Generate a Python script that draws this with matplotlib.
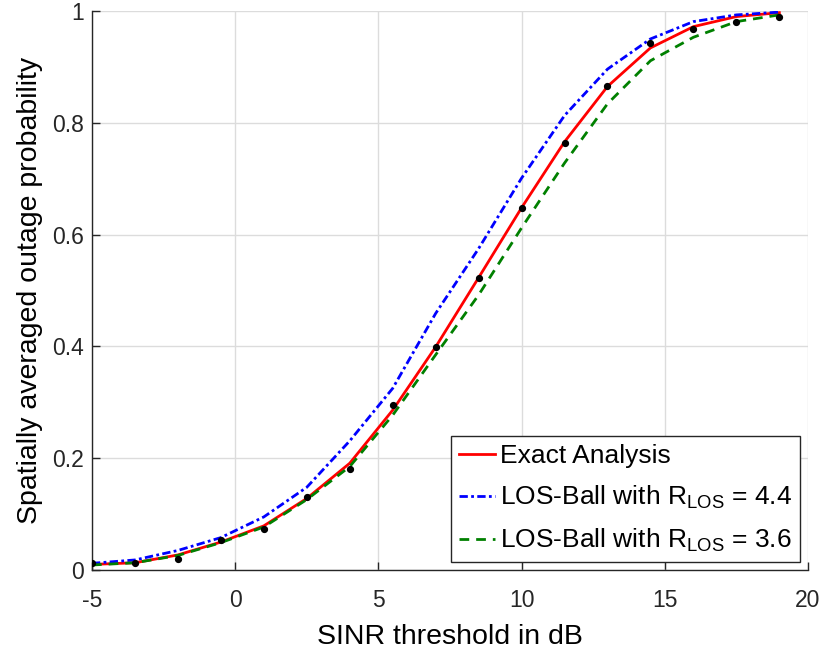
import matplotlib
matplotlib.use("Agg")
import matplotlib.pyplot as plt

plt.rcParams["font.family"] = ["Liberation Sans", "DejaVu Sans"]
plt.rcParams["mathtext.default"] = "regular"
plt.rcParams["axes.unicode_minus"] = False

# SINR thresholds (dB)
sinr_db = [-5, -3.5, -2, -0.5, 1, 2.5, 4, 5.5, 7, 8.5, 10, 11.5, 13, 14.5, 16, 17.5, 19]

# outage probability curves
exact = [0.010, 0.013, 0.027, 0.050, 0.079, 0.128, 0.191, 0.286, 0.399, 0.523,
         0.648, 0.766, 0.865, 0.934, 0.972, 0.990, 0.997]
ball_44 = [0.012, 0.018, 0.035, 0.058, 0.095, 0.148, 0.231, 0.325, 0.459, 0.575,
           0.701, 0.813, 0.896, 0.950, 0.981, 0.993, 0.998]
ball_36 = [0.009, 0.013, 0.026, 0.049, 0.077, 0.126, 0.185, 0.277, 0.385, 0.492,
           0.612, 0.728, 0.834, 0.911, 0.953, 0.981, 0.993]

# simulation points
sim = [0.012, 0.013, 0.020, 0.054, 0.074, 0.130, 0.181, 0.295, 0.399, 0.523,
       0.648, 0.764, 0.865, 0.942, 0.968, 0.981, 0.990]

dark = "#262626"

fig = plt.figure(figsize=(8.27, 6.54), dpi=100)
ax = fig.add_axes([0.1112, 0.1284, 0.8658, 0.8548])

ax.plot(sinr_db, exact, color="red", lw=2.0, label="Exact Analysis", zorder=3)
ax.plot(sinr_db, ball_44, color="blue", lw=2.0, dashes=(3, 1.2, 1, 1.2),
        label=r"LOS-Ball with R$_{LOS}$ = 4.4", zorder=3)
ax.plot(sinr_db, ball_36, color="green", lw=2.0, dashes=(3.5, 2.5),
        label=r"LOS-Ball with R$_{LOS}$ = 3.6", zorder=3)
ax.plot(sinr_db, sim, linestyle="none", marker="o", ms=4.2, color="black", zorder=4)

ax.set_xlim(-5, 20)
ax.set_ylim(0, 1)
ax.set_xticks([-5, 0, 5, 10, 15, 20])
ax.set_yticks([0, 0.2, 0.4, 0.6, 0.8, 1])
ax.set_yticklabels(["0", "0.2", "0.4", "0.6", "0.8", "1"])

ax.grid(True, color="#dcdcdc", lw=1.0)
ax.set_axisbelow(True)
for side in ("top", "right"):
    ax.spines[side].set_visible(False)
for side in ("left", "bottom"):
    ax.spines[side].set_color(dark)
    ax.spines[side].set_linewidth(1.0)
ax.tick_params(direction="in", length=6, width=1.0, colors=dark, labelsize=16.5)
ax.tick_params(axis="x", pad=14)
ax.tick_params(axis="y", pad=6)

ax.set_xlabel("SINR threshold in dB", fontsize=20.5, color="black", labelpad=8)
ax.set_ylabel("Spatially averaged outage probability", fontsize=20.5,
              color="black", labelpad=6)

leg = ax.legend(loc="lower right", fontsize=19, frameon=True, fancybox=False,
                edgecolor=dark, framealpha=1, handlelength=1.35,
                handletextpad=0.2, borderpad=0.3, labelspacing=0.6,
                borderaxespad=0.3)
leg.get_frame().set_linewidth(1.0)

fig.savefig("out.png", dpi=100)
